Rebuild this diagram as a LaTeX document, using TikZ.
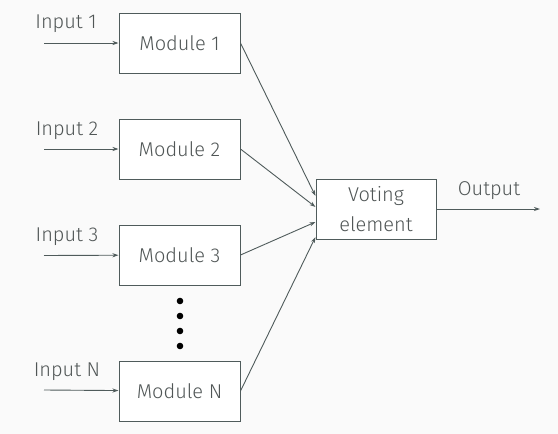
\documentclass[tikz,border=0pt]{standalone}
\usepackage{fontspec}
\setmainfont{Fira Sans}[UprightFont=* Light]
\usetikzlibrary{arrows.meta}
\definecolor{bgc}{HTML}{FAFAFA}
\definecolor{linec}{HTML}{4F5B5B}
\definecolor{textc}{HTML}{505656}
\tikzset{
  module/.style={draw=linec, line width=1pt, fill=white, minimum width=121pt, minimum height=60pt, inner sep=0pt, text=textc, font=\fontsize{20}{30}\selectfont},
  lbl/.style={text=textc, font=\fontsize{20}{24}\selectfont, inner sep=0pt},
  arr/.style={draw=linec, line width=0.9pt, -{Stealth[length=6pt,width=4pt]}},
  dot/.style={circle, fill=black, inner sep=0pt, minimum size=6.6pt}
}
\begin{document}
\begin{tikzpicture}[x=1pt,y=-1pt]
\fill[bgc] (0,0) rectangle (558,434);
\useasboundingbox (0,0) rectangle (558,434);
\node[module] (m1) at (179.5,43) {Module 1};
\node[module] (m2) at (179.5,149) {Module 2};
\node[module] (m3) at (179.5,255) {Module 3};
\node[module] (mN) at (179.5,391) {Module N};
\node[module, minimum width=120pt, align=center] (v) at (376,209) {Voting\\element};
\node[lbl] (l1) at (66,24) {Input 1};
\node[lbl] (l2) at (67,130.5) {Input 2};
\node[lbl] (l3) at (67,236.5) {Input 3};
\node[lbl] (lN) at (67,372) {Input N};
\node[lbl] (lo) at (489,191) {Output};
\coordinate (i1) at (44,43);
\coordinate (i2) at (44,149);
\coordinate (i3) at (44,255.5);
\coordinate (iN) at (44,390);
\coordinate (o) at (540,209);
\draw[arr] (i1) -- (m1);
\draw[arr] (i2) -- (m2);
\draw[arr] (i3) -- (m3);
\draw[arr] (iN) -- (mN);
\draw[arr] (m1.east) -- ([yshift=13pt]v.west);
\draw[arr] (m2.east) -- ([yshift=2pt]v.west);
\draw[arr] (m3.east) -- ([yshift=-13pt]v.west);
\draw[arr] (mN.east) -- ([yshift=-28pt]v.west);
\draw[arr] (v) -- (o);
\node[dot] (d1) at (180,301) {};
\node[dot] (d2) at (180,316) {};
\node[dot] (d3) at (180,331) {};
\node[dot] (d4) at (180,346) {};
\end{tikzpicture}
\end{document}
